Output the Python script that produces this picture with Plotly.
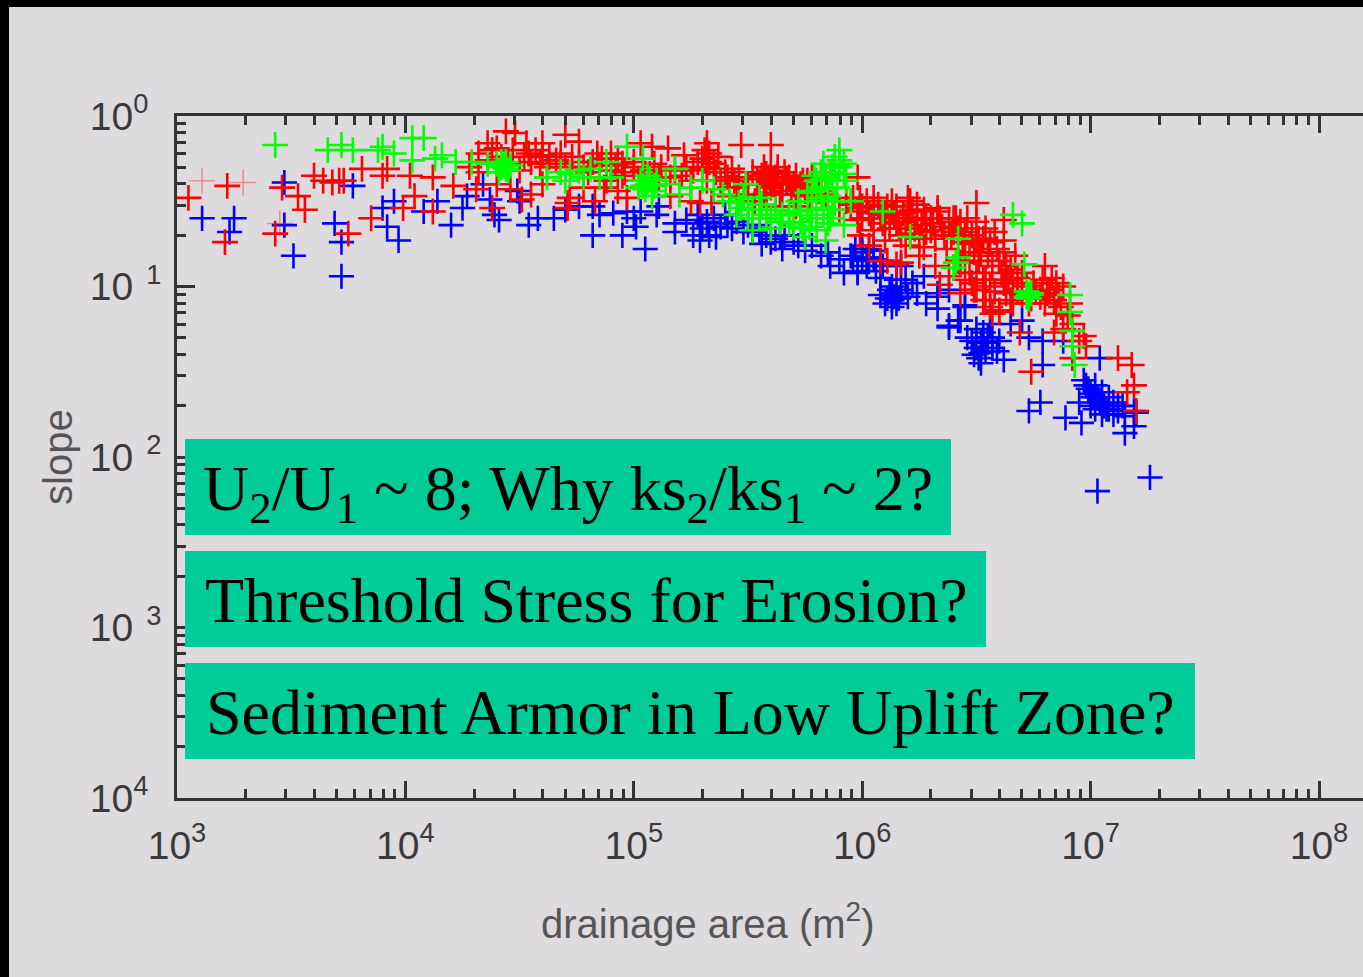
import numpy as np
import plotly.graph_objects as go

# log10(drainage area), log10(slope)
blue_log_area = [3.11,3.25,3.23,3.47,3.47,3.51,3.72,3.69,3.72,3.77,3.90,3.92,3.95,3.97,4.08,4.14,4.20,4.25,4.27,4.41,4.39,4.54,4.58,4.65,4.34,4.49,4.50,4.37,
 4.82,4.95,5.05,5.01,4.76,4.82,4.91,4.97,5.18,5.18,5.29,5.36,5.28,5.23,5.41,5.48,5.56,5.65,5.75,5.82,5.86,5.92,5.98,6.02,6.08,6.13,6.13,6.17,6.24,6.33,6.38,5.98,6.03,6.13,6.33,6.33,6.38,
 6.52,6.52,6.53,6.62,6.56,6.65,6.73,6.78,6.79,6.73,6.89,6.96,6.95,6.97,7.04,7.00,7.04,7.08,7.12,7.19,7.20,7.19,7.15,7.26,7.03,6.79,6.88,
 6.00,5.97,6.05,6.08,6.00,6.55,6.50,6.57,6.48,7.02,7.05,7.00,7.07,7.10,7.03,7.14,4.70,4.85,5.00,5.10,
 5.32,5.38,5.45,5.30,5.50,5.58,5.62,5.70,5.78,5.85,5.90,6.15,6.22,6.28,6.42,6.45,6.60,6.70]
blue_log_slope = [-0.60,-0.60,-0.68,-0.39,-0.64,-0.82,-0.94,-0.63,-0.74,-0.41,-0.54,-0.65,-0.50,-0.73,-0.56,-0.50,-0.64,-0.54,-0.47,-0.61,-0.58,-0.64,-0.60,-0.60,-0.40,-0.44,-0.50,-0.49,
 -0.70,-0.70,-0.78,-0.65,-0.53,-0.53,-0.57,-0.56,-0.63,-0.68,-0.73,-0.71,-0.58,-0.61,-0.63,-0.68,-0.75,-0.78,-0.79,-0.82,-0.88,-0.92,-0.92,-0.83,-0.95,-1.08,-1.12,-1.02,-1.04,-1.06,-1.24,-0.91,-0.83,-1.04,-1.04,-1.13,-1.23,
 -1.33,-1.39,-1.27,-1.43,-1.22,-1.22,-1.73,-1.68,-1.46,-1.30,-1.77,-1.80,-1.68,-1.55,-1.42,-1.63,-1.68,-1.65,-1.73,-1.73,-1.74,-1.82,-1.86,-2.12,-2.20,-1.32,-1.32,
 -0.76,-0.78,-0.79,-0.85,-0.85,-1.30,-1.25,-1.36,-1.32,-1.58,-1.62,-1.70,-1.72,-1.68,-1.65,-1.70,-0.55,-0.58,-0.60,-0.58,
 -0.62,-0.65,-0.62,-0.66,-0.64,-0.70,-0.72,-0.74,-0.76,-0.80,-0.84,-0.96,-0.98,-1.10,-1.20,-1.12,-1.32,-1.20]
blue_dense_area = [6.08,6.12,6.14,6.10,6.15,6.13,6.16,6.20,6.11,5.96,6.00,6.03,6.05,6.02,6.09,
 6.50,6.53,6.54,6.51,6.55,6.57,6.52,6.49,6.46,6.59,7.06,7.08,7.05,7.02,7.10,7.12,7.01,6.99,6.98,7.15,
 5.35,5.40,5.43,5.26,5.33,5.52,5.55,5.60,5.66,5.72,
 5.95,6.06,6.19,6.27,6.38,6.45,6.43,6.17,5.03,5.11,5.29,5.55,5.64]
blue_dense_slope = [-1.05,-1.02,-1.06,-1.10,-1.10,-1.00,-1.07,-1.06,-1.07,-0.84,-0.80,-0.78,-0.84,-0.88,-0.88,
 -1.36,-1.32,-1.38,-1.42,-1.33,-1.30,-1.45,-1.40,-1.30,-1.38,-1.70,-1.72,-1.75,-1.72,-1.75,-1.70,-1.65,-1.60,-1.58,-1.76,
 -0.60,-0.58,-0.66,-0.70,-0.70,-0.68,-0.66,-0.74,-0.70,-0.76,
 -0.82,-0.91,-0.96,-0.94,-1.02,-1.11,-1.20,-0.88,-0.56,-0.53,-0.63,-0.64,-0.70]

red_log_area = [3.05,3.22,3.46,3.53,3.56,3.60,3.64,3.71,3.68,3.73,3.81,3.90,3.92,4.02,4.12,4.21,4.04,3.99,4.12,3.85,3.75,3.43,3.21,4.38,4.51,4.31,4.36,4.44,4.48,4.53,4.60,4.54,4.60,4.68,4.71,4.60,
 4.70,4.76,4.84,4.90,5.03,5.08,5.15,5.22,5.32,5.47,5.60,5.30,5.32,5.43,5.58,5.63,5.68,5.74,5.61,5.50,5.98,5.99,5.98,6.05,6.13,6.21,6.28,6.33,6.41,6.15,6.08,6.21,6.27,
 4.93,4.87,4.97,4.93,4.72,4.71,5.34,5.29,5.32,5.55,5.57,5.64,5.71,5.41,5.45,6.50,6.20,5.99,6.13,6.33,6.30,6.05,6.00,6.20,6.24,6.17,6.11,6.40,6.50,6.51,6.62,6.62,6.53,6.43,6.45,6.56,6.62,
 6.80,6.82,6.85,6.92,6.84,6.69,6.74,6.92,7.12,7.18,7.19,7.16,7.20,6.91,6.97,6.79,6.73,6.68,6.63,6.57,
 4.32,4.36,4.40,4.45,4.50,4.55,4.62,4.66,4.70,4.76,4.80,4.85,4.90,4.95,5.00,5.02,5.07,4.32,4.28,4.40,4.46,4.55,4.78,4.83,4.88,4.95,5.12,5.18,5.25,5.35,
 5.33,5.36,5.30,5.38,5.42,5.48,5.56,5.60,5.60,5.62,5.65,5.66,5.70,5.72,5.75,5.58,5.78,5.82,
 5.95,5.98,6.02,6.04,6.07,6.09,6.10,6.12,6.15,6.15,6.17,6.18,6.22,6.23,6.25,6.27,6.30,6.32,6.35,6.37,6.39,6.42,6.44,6.46,6.48,6.50,6.52,6.54,6.56,6.58,6.60,6.62,6.65,6.67,6.70,6.72,6.75,6.78,6.80,6.83,6.86,6.88,
 6.47,6.50,6.53,6.58,6.60,6.66,6.42,6.45,6.88,6.95,6.98]
red_log_slope = [-0.48,-0.41,-0.42,-0.47,-0.55,-0.35,-0.38,-0.38,-0.39,-0.38,-0.31,-0.35,-0.31,-0.35,-0.36,-0.41,-0.47,-0.54,-0.56,-0.60,-0.69,-0.69,-0.74,-0.54,-0.49,-0.43,-0.16,-0.09,-0.10,-0.16,-0.16,-0.22,-0.23,-0.22,-0.51,-0.40,
 -0.11,-0.15,-0.22,-0.22,-0.16,-0.18,-0.19,-0.23,-0.16,-0.17,-0.17,-0.25,-0.30,-0.31,-0.34,-0.30,-0.36,-0.38,-0.38,-0.40,-0.36,-0.48,-0.61,-0.56,-0.56,-0.50,-0.60,-0.56,-0.60,-0.87,-0.85,-0.69,-0.77,
 -0.44,-0.42,-0.48,-0.25,-0.48,-0.54,-0.51,-0.51,-0.38,-0.40,-0.46,-0.46,-0.46,-0.36,-0.42,-0.51,-0.48,-0.54,-0.50,-0.54,-0.67,-0.67,-0.60,-0.60,-0.61,-0.86,-0.85,-0.60,-0.73,-0.85,-0.61,-0.73,-0.96,-1.04,-0.96,-1.12,-0.98,
 -0.88,-1.02,-1.16,-1.22,-1.27,-1.27,-1.50,-1.42,-1.42,-1.46,-1.58,-1.62,-1.73,-1.10,-1.29,-0.96,-1.10,-0.95,-1.04,-1.16,
 -0.22,-0.26,-0.19,-0.28,-0.32,-0.27,-0.30,-0.26,-0.30,-0.27,-0.33,-0.29,-0.32,-0.35,-0.30,-0.38,-0.34,-0.33,-0.30,-0.40,-0.43,-0.46,-0.42,-0.50,-0.38,-0.28,-0.30,-0.32,-0.38,-0.28,
 -0.27,-0.33,-0.31,-0.38,-0.42,-0.46,-0.35,-0.32,-0.42,-0.36,-0.40,-0.33,-0.40,-0.42,-0.44,-0.45,-0.36,-0.38,
 -0.52,-0.56,-0.50,-0.60,-0.52,-0.63,-0.58,-0.66,-0.53,-0.62,-0.70,-0.57,-0.55,-0.66,-0.72,-0.55,-0.60,-0.72,-0.65,-0.78,-0.70,-0.66,-0.74,-0.60,-0.70,-0.62,-0.80,-0.66,-0.74,-0.68,-0.85,-0.80,-0.90,-0.82,-0.92,-1.00,-0.98,-1.06,-1.10,-0.95,-1.05,-1.00,
 -0.92,-1.02,-1.08,-1.03,-1.15,-1.10,-0.85,-0.82,-1.25,-1.32,-1.35]
red_dense_area = [5.52,5.54,5.57,5.59,5.61,5.63,5.65,5.67,5.69,5.71,5.73,5.76,5.79,5.81,5.84,5.46,5.44,5.40,5.37,5.33,5.31,5.28,5.26,5.23,5.21,5.16,
 5.90,5.93,5.96,6.00,6.03,6.05,6.08,6.11,6.14,6.16,6.19,6.21,6.24,6.26,6.28,6.31,6.34,6.36,6.38,6.40,6.43,6.45,6.47,6.49,6.51,6.53,6.55,6.57,6.59,6.61,6.63,6.64,6.66,6.68,6.70,6.74,6.76,6.81,6.84,6.87,6.90,6.85,
 6.50,6.54,6.56,6.48,4.38,4.42,4.47,4.52,4.57,4.59,4.63,4.68,4.73,4.78,4.82,4.86,4.92,4.96,5.00,5.04,5.09,5.11,
 6.25,6.32,6.38,6.34,6.43,6.49,6.54,6.60,6.65,6.03,6.10,6.19,5.99,5.42,5.53,5.62,5.71,5.77,5.25,5.16]
red_dense_slope = [-0.33,-0.37,-0.30,-0.36,-0.40,-0.34,-0.44,-0.38,-0.44,-0.35,-0.40,-0.38,-0.43,-0.44,-0.46,-0.36,-0.38,-0.33,-0.24,-0.22,-0.20,-0.27,-0.32,-0.30,-0.35,-0.36,
 -0.55,-0.50,-0.48,-0.53,-0.57,-0.48,-0.60,-0.53,-0.58,-0.66,-0.62,-0.56,-0.52,-0.64,-0.68,-0.63,-0.60,-0.70,-0.62,-0.68,-0.62,-0.68,-0.75,-0.80,-0.72,-0.72,-0.82,-0.88,-0.78,-0.92,-0.88,-0.96,-0.98,-1.03,-1.05,-1.07,-1.03,-1.04,-1.08,-1.12,-1.17,-0.98,
 -0.92,-0.96,-1.00,-0.98,-0.20,-0.24,-0.20,-0.24,-0.20,-0.28,-0.24,-0.28,-0.24,-0.30,-0.27,-0.25,-0.29,-0.33,-0.27,-0.32,-0.28,-0.36,
 -0.82,-0.88,-0.94,-0.99,-0.86,-1.02,-1.08,-1.14,-1.08,-0.76,-0.73,-0.76,-0.70,-0.47,-0.50,-0.53,-0.53,-0.47,-0.50,-0.47]

red_faint_log_area = [3.11,3.29,3.45]
red_faint_log_slope = [-0.38,-0.39,-0.63]

green_log_area = [3.43,3.66,3.72,3.77,3.88,3.90,3.95,4.03,4.08,4.03,4.13,4.16,4.22,4.29,4.36,4.43,4.42,4.44,4.42,4.62,
 4.97,4.88,4.81,4.72,4.90,5.04,5.03,5.05,5.09,5.07,5.08,5.18,5.20,5.30,5.39,5.46,5.49,5.55,5.52,5.58,5.68,5.75,5.80,5.83,5.90,5.90,5.85,5.83,5.78,5.86,5.92,5.89,
 5.80,5.84,5.87,5.78,5.73,5.70,5.76,5.82,5.88,5.85,5.45,5.50,5.55,5.60,5.65,
 6.09,6.21,6.42,6.42,6.40,6.41,6.66,6.70,6.71,6.73,6.72,6.73,6.91,6.91,6.92,6.92,6.93]
green_log_slope = [-0.17,-0.20,-0.17,-0.20,-0.20,-0.18,-0.22,-0.13,-0.13,-0.26,-0.25,-0.23,-0.27,-0.27,-0.28,-0.29,-0.27,-0.31,-0.30,-0.36,
 -0.18,-0.27,-0.31,-0.34,-0.36,-0.25,-0.38,-0.43,-0.41,-0.37,-0.47,-0.31,-0.46,-0.38,-0.46,-0.51,-0.40,-0.48,-0.67,-0.60,-0.63,-0.71,-0.67,-0.28,-0.26,-0.20,-0.42,-0.54,-0.50,-0.60,-0.34,-0.42,
 -0.44,-0.36,-0.30,-0.60,-0.62,-0.58,-0.55,-0.48,-0.50,-0.63,-0.58,-0.55,-0.60,-0.66,-0.58,
 -0.56,-0.71,-0.72,-0.83,-0.89,-0.86,-0.58,-0.63,-0.87,-1.05,-1.03,-1.07,-1.05,-1.15,-1.26,-1.35,-1.46]
green_dense_area = [5.88,5.90,5.86,5.82,5.92,5.93,5.87,5.80,5.76,5.72,5.78,5.82,5.85,5.87,5.83,5.80,5.77,5.74,5.70,5.68,5.64,5.62,5.60,5.56,5.52,5.48,5.42,5.35,5.25,5.14,
 5.06,5.04,5.08,5.10,5.02,5.06,4.44,4.41,4.46,4.40,4.45,4.70,4.76,4.78,4.68,4.85,5.47,5.50,5.55,5.58,6.74,6.72,
 5.88,5.79,5.73,5.68,5.95,5.92,5.84]
green_dense_slope = [-0.24,-0.30,-0.33,-0.33,-0.28,-0.38,-0.38,-0.38,-0.45,-0.50,-0.44,-0.42,-0.47,-0.55,-0.58,-0.55,-0.65,-0.66,-0.65,-0.56,-0.62,-0.55,-0.60,-0.52,-0.55,-0.48,-0.50,-0.43,-0.42,-0.40,
 -0.40,-0.41,-0.44,-0.38,-0.42,-0.35,-0.27,-0.33,-0.29,-0.28,-0.32,-0.38,-0.32,-0.36,-0.33,-0.36,-0.54,-0.60,-0.55,-0.58,-1.04,-1.06,
 -0.29,-0.35,-0.56,-0.58,-0.50,-0.64,-0.73]

x_tick_values = [1e3, 1e4, 1e5, 1e6, 1e7, 1e8]
x_tick_labels = ["10<sup>3</sup>", "10<sup>4</sup>", "10<sup>5</sup>", "10<sup>6</sup>", "10<sup>7</sup>", "10<sup>8</sup>"]
y_tick_values = [1, 1e-1, 1e-2, 1e-3, 1e-4]
y_tick_labels = ["10<sup>0</sup>\u2004", "10\u2004<sup>1</sup>", "10\u2004<sup>2</sup>", "10\u2004<sup>3</sup>", "10<sup>4</sup>\u2004"]
box_texts = ["U<sub>2</sub>/U<sub>1</sub> ~ 8; Why ks<sub>2</sub>/ks<sub>1</sub> ~ 2?",
             "Threshold Stress for Erosion?",
             "Sediment Armor in Low Uplift Zone?"]

W, H = 1363, 977
L, R, T, B = 177, 0, 116, 179
BG = "#DDDBDE"
INK = "#333333"
DECADE_X = 228.4

def px(x): return (x - L) / (W - L - R)
def py(y): return (H - B - y) / (H - T - B)

fig = go.Figure()
def add(ax, ay, color, width=2.6, size=18.5, opacity=1.0):
    fig.add_trace(go.Scatter(x=10.0 ** np.array(ax), y=10.0 ** np.array(ay), mode="markers",
        marker=dict(symbol="cross-thin", size=size, opacity=opacity, line=dict(color=color, width=width)),
        showlegend=False, hoverinfo="skip"))
add(blue_log_area + blue_dense_area, blue_log_slope + blue_dense_slope, "#0000FF", size=18)
add(red_faint_log_area, red_faint_log_slope, "#FF0000", width=1.5, opacity=0.35)
add(red_log_area + red_dense_area, red_log_slope + red_dense_slope, "#FF0000")
add(green_log_area + green_dense_area, green_log_slope + green_dense_slope, "#00FF00")

shapes = [
    dict(type="rect", xref="paper", yref="paper", x0=px(0), x1=px(W), y0=py(0), y1=py(7), fillcolor="#000", line_width=0, layer="above"),
    dict(type="rect", xref="paper", yref="paper", x0=px(0), x1=px(9), y0=py(0), y1=py(H), fillcolor="#000", line_width=0, layer="above"),
]
annos = []
boxes = [(185, 951, 439, 535), (185, 986, 551, 647), (185, 1195, 663, 759)]
text_dy = [6, 1, 1]
text_x = [201, 203, 204]
for (x0, x1, y0, y1), t, dy, tx in zip(boxes, box_texts, text_dy, text_x):
    shapes.append(dict(type="rect", xref="paper", yref="paper", x0=px(x0), x1=px(x1), y0=py(y0), y1=py(y1),
                       fillcolor="#00CC99", line_width=0, layer="above"))
    annos.append(dict(text=t, xref="paper", yref="paper", x=px(tx), y=py((y0 + y1) / 2 + dy), xanchor="left", yanchor="middle",
                      showarrow=False, font=dict(family="Liberation Serif", size=64, color="#000")))
annos.append(dict(text="drainage area (m<sup>2</sup>)", xref="paper", yref="paper", x=px(708), y=py(921), xanchor="center", yanchor="middle",
                  showarrow=False, font=dict(family="Liberation Sans", size=40, color="#555555")))
annos.append(dict(text="slope", xref="paper", yref="paper", x=px(58), y=py(457), xanchor="center", yanchor="middle", textangle=-90,
                  showarrow=False, font=dict(family="Liberation Sans", size=40, color="#555555")))

axis_common = dict(type="log", showgrid=False, zeroline=False, showline=True, linewidth=2.5, linecolor=INK,
                   ticks="inside", tickcolor=INK, tickwidth=2.5, automargin=False,
                   tickfont=dict(family="Liberation Sans", size=39, color="#3A3A3A"),
                   minor=dict(ticks="inside", dtick="D1", ticklen=9, tickwidth=2.5, tickcolor=INK, showgrid=False))
fig.update_layout(
    width=W, height=H, margin=dict(l=L, r=R, t=T, b=B, pad=0), autosize=False,
    paper_bgcolor=BG, plot_bgcolor=BG, showlegend=False, shapes=shapes, annotations=annos,
    xaxis=dict(range=[3, 3 + (W - L - R) / DECADE_X], tickmode="array", tickvals=x_tick_values, ticktext=x_tick_labels,
               ticklen=17, mirror="allticks", ticklabelstandoff=11, **axis_common),
    yaxis=dict(range=[-4, 0], tickmode="array", tickvals=y_tick_values, ticktext=y_tick_labels, ticklen=18,
               ticklabelstandoff=5, **axis_common),
)
fig.write_html("out.html", config={"displayModeBar": False},
               post_script="document.body.style.margin='0';document.body.style.overflow='hidden';")
